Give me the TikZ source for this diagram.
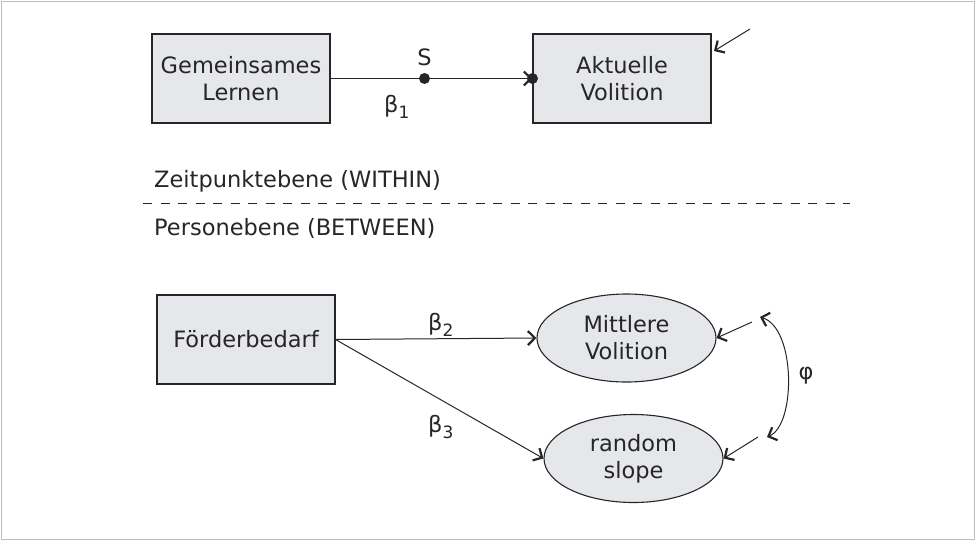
\documentclass[tikz,border=0pt]{standalone}
\usepackage{fontspec}
\setmainfont{DejaVu Sans}
\usetikzlibrary{arrows.meta,shapes.geometric}
\definecolor{boxfill}{HTML}{E6E7EA}
\definecolor{ink}{HTML}{262626}
\definecolor{framecol}{HTML}{BDBDBD}
\begin{document}
\begin{tikzpicture}[x=1pt,y=-1pt,
  font=\fontsize{22.5}{27}\selectfont, text=ink,
  box/.style={rectangle, draw=ink, fill=boxfill, line width=1.1pt, align=center, inner sep=0pt, minimum width=178pt, minimum height=89pt},
  oval/.style={ellipse, draw=ink, fill=boxfill, line width=1.1pt, align=center, inner sep=0pt, minimum width=179pt, minimum height=88pt},
  conn/.style={draw=ink, line width=1pt},
  tipend/.style={-{Straight Barb[length=7pt,width=14pt,line width=2.2pt]}},
  bothends/.style={{Straight Barb[length=7pt,width=14pt,line width=2.2pt]}-{Straight Barb[length=7pt,width=14pt,line width=2.2pt]}},
  lbl/.style={inner sep=0pt}]
\useasboundingbox (0,0) rectangle (976,541);
\draw[framecol, line width=1.5pt] (1.5,1.5) rectangle (974.5,539.5);

% within level
\node[box] (gl) at (241,78.5) {Gemeinsames\\Lernen};
\node[box] (av) at (622,78.5) {Aktuelle\\Volition};
\coordinate (sdot) at (424.5,78.5);
\draw[conn,tipend] (gl.east) -- (av.west);
\fill[ink] (sdot) circle (5.5pt);
\fill[ink] (av.west) circle (5.5pt);
\node[lbl] (slab) at (424.5,57) {S};
\node[lbl] (b1) at (397,107) {β\textsubscript{\fontsize{17}{20}\selectfont 1}};
\coordinate (ea1) at (750,29);
\coordinate (ea2) at (714,51);
\draw[conn,tipend] (ea1) -- (ea2);

% separator
\node[lbl, anchor=west] (zeit) at (154,181) {Zeitpunktebene (WITHIN)};
\coordinate (d1) at (143,203.5);
\coordinate (d2) at (850,203.5);
\draw[ink, line width=1.8pt, dash pattern=on 9pt off 8.5pt] (d1) -- (d2);
\node[lbl, anchor=west] (pers) at (154,228) {Personebene (BETWEEN)};

% between level
\node[box] (fb) at (246,339.5) {Förderbedarf};
\node[oval] (mv) at (626.5,338) {Mittlere\\Volition};
\node[oval] (rs) at (633.5,458.5) {random\\slope};
\draw[conn,tipend] (fb.east) -- (mv.west);
\draw[conn,tipend] (fb.east) -- (rs.west);
\node[lbl] (b2) at (441,325) {β\textsubscript{\fontsize{17}{20}\selectfont 2}};
\node[lbl] (b3) at (441,427) {β\textsubscript{\fontsize{17}{20}\selectfont 3}};

\coordinate (em) at (752,322);
\coordinate (er) at (758,437);
\draw[conn,tipend] (em) -- (mv.east);
\draw[conn,tipend] (er) -- (rs.east);

\coordinate (p1) at (760,317);
\coordinate (p2) at (767,437);
\draw[conn,bothends] (p1) .. controls (796,328) and (796,425) .. (p2);
\node[lbl] (phi) at (806,376) {φ};
\end{tikzpicture}
\end{document}
